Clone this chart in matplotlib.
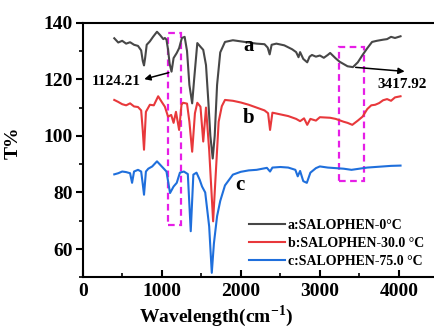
import matplotlib
matplotlib.use('Agg')
import matplotlib.pyplot as plt
from matplotlib.patches import Rectangle
from matplotlib.ticker import MultipleLocator

plt.rcParams['font.family'] = ['Liberation Serif', 'DejaVu Serif']
plt.rcParams['font.weight'] = 'bold'
plt.rcParams['mathtext.fontset'] = 'custom'
plt.rcParams['mathtext.rm'] = 'Liberation Serif:bold'

# curve a: SALOPHEN-0 °C
wn_a = [400, 450, 500, 550, 600, 650, 700, 740, 760, 776, 790, 810, 850, 890, 940, 980,
        1020, 1040, 1060, 1080, 1100, 1124, 1150, 1190, 1220, 1255, 1290, 1320, 1350, 1385,
        1410, 1450, 1490, 1525, 1560, 1590, 1615, 1645, 1670, 1700, 1740, 1800, 1900, 2000,
        2100, 2200, 2300, 2340, 2365, 2390, 2450, 2550, 2650, 2700, 2730, 2750, 2790, 2840,
        2870, 2900, 2950, 3000, 3050, 3100, 3130, 3200, 3250, 3300, 3350, 3418, 3480, 3540,
        3600, 3660, 3720, 3800, 3850, 3900, 3950, 4020]
t_a = [134.5, 133.0, 133.6, 132.6, 133.1, 132.2, 131.8, 130.2, 126.5, 124.9, 127.5, 132.2,
       133.4, 135.0, 136.8, 135.6, 134.2, 134.6, 134.0, 130.5, 125.5, 122.7, 127.5, 129.3,
       131.0, 134.6, 135.0, 130.0, 118.0, 111.5, 120.0, 132.8, 131.5, 130.4, 125.0, 112.0,
       100.0, 92.0, 100.0, 118.0, 129.5, 133.2, 133.8, 133.4, 133.0, 132.6, 132.4, 131.2,
       128.8, 132.2, 132.6, 132.0, 130.6, 129.6, 127.8, 129.6, 127.2, 126.0, 128.0, 128.6,
       128.0, 128.4, 127.6, 128.6, 129.3, 127.4, 126.2, 125.4, 124.6, 124.3, 126.0, 128.6,
       131.0, 133.2, 133.6, 134.0, 134.2, 135.0, 134.6, 135.2]

# curve b: SALOPHEN-30.0 °C
wn_b = [400, 450, 500, 550, 600, 650, 700, 740, 760, 776, 800, 850, 900, 955, 1000, 1040,
        1080, 1120, 1150, 1180, 1220, 1250, 1270, 1320, 1350, 1385, 1420, 1450, 1490, 1525,
        1560, 1600, 1650, 1680, 1720, 1760, 1800, 1900, 2000, 2100, 2200, 2300, 2345, 2370,
        2400, 2500, 2600, 2700, 2750, 2800, 2840, 2880, 2950, 3000, 3130, 3200, 3300, 3350,
        3410, 3480, 3540, 3600, 3650, 3700, 3750, 3800, 3850, 3900, 3950, 4020]
t_b = [112.7, 112.0, 111.2, 110.8, 111.5, 110.4, 110.2, 109.0, 102.0, 95.1, 108.5, 111.0,
       110.8, 114.0, 112.0, 110.3, 106.8, 107.4, 104.6, 108.5, 102.1, 111.0, 111.7, 111.4,
       105.0, 94.4, 108.0, 111.7, 110.3, 98.0, 110.0, 95.0, 69.8, 85.0, 105.0, 110.5, 112.7,
       112.4, 111.8, 111.0, 110.0, 109.0, 108.0, 102.1, 108.2, 107.6, 107.0, 106.0, 105.2,
       106.2, 103.9, 106.0, 105.4, 106.6, 106.4, 106.0, 105.0, 104.6, 103.9, 105.4, 106.8,
       109.5, 110.8, 111.0, 111.6, 112.6, 113.0, 112.4, 113.6, 114.0]

# curve c: SALOPHEN-75.0 °C
wn_c = [400, 450, 500, 550, 600, 625, 650, 700, 740, 760, 776, 800, 830, 880, 940, 980,
        1020, 1060, 1105, 1150, 1190, 1230, 1280, 1330, 1367, 1400, 1440, 1480, 1510, 1550,
        1600, 1633, 1660, 1700, 1740, 1800, 1900, 2000, 2100, 2200, 2330, 2370, 2400, 2500,
        2600, 2690, 2720, 2750, 2790, 2835, 2880, 2950, 3000, 3100, 3200, 3300, 3400, 3500,
        3600, 3700, 3800, 3900, 4020]
t_c = [86.4, 86.8, 87.4, 87.2, 86.8, 83.4, 87.4, 88.0, 87.4, 83.0, 79.2, 87.4, 88.4, 89.2,
       91.0, 89.8, 88.6, 87.4, 79.8, 82.1, 83.4, 87.0, 87.4, 86.5, 66.3, 86.3, 87.0, 84.5,
       82.1, 80.0, 68.0, 51.6, 62.0, 71.6, 77.0, 82.5, 86.3, 87.3, 87.8, 88.0, 88.7, 87.4,
       88.8, 89.0, 88.8, 88.0, 85.7, 87.6, 84.0, 83.4, 87.0, 88.6, 89.2, 88.8, 88.6, 88.4,
       88.0, 88.4, 88.8, 89.0, 89.2, 89.4, 89.5]

labels = ['a:SALOPHEN-0\u00b0C', 'b:SALOPHEN-30.0 \u00b0C', 'c:SALOPHEN-75.0 \u00b0C']
colors = ['#474747', '#e8383b', '#1f6fdc']

fig = plt.figure(figsize=(4.35, 3.29), dpi=100)
ax = fig.add_axes([0.19, 0.157, 0.818, 0.774])

for wn, t, lab, col in zip([wn_a, wn_b, wn_c], [t_a, t_b, t_c], labels, colors):
    ax.plot(wn, t, color=col, lw=1.5, label=lab)

# dashed highlight boxes
for x0, y0, w, h in [(1080, 68.6, 170, 67.8), (3248, 84.0, 313, 47.5)]:
    ax.add_patch(Rectangle((x0, y0), w, h, fill=False, edgecolor='#e61ee6',
                           lw=1.6, linestyle=(0, (3, 2))))

# peak labels
ax.annotate('', xy=(745, 119.8), xytext=(1124, 122.6),
            arrowprops=dict(arrowstyle='-|>', color='black', lw=1.1, mutation_scale=9))
ax.text(740, 119.3, '1124.21', ha='right', va='center', fontsize=11, fontweight='bold')
ax.annotate('', xy=(4107, 122.7), xytext=(3418, 124.3),
            arrowprops=dict(arrowstyle='-|>', color='black', lw=1.1, mutation_scale=9))
ax.text(3727, 118.3, '3417.92', ha='left', va='center', fontsize=11, fontweight='bold')

ax.text(2092, 131.8, 'a', ha='center', va='center', fontsize=15, fontweight='bold')
ax.text(2092, 106.4, 'b', ha='center', va='center', fontsize=15, fontweight='bold')
ax.text(1990, 82.7, 'c', ha='center', va='center', fontsize=15, fontweight='bold')

ax.set_xlim(0, 4500)
ax.set_ylim(50, 140)
ax.xaxis.set_major_locator(MultipleLocator(1000))
ax.xaxis.set_minor_locator(MultipleLocator(500))
ax.yaxis.set_major_locator(MultipleLocator(20))
ax.yaxis.set_minor_locator(MultipleLocator(10))
ax.set_xticks([0, 1000, 2000, 3000, 4000])
ax.set_yticks([60, 80, 100, 120, 140])
ax.tick_params(axis='x', which='both', direction='in', labelsize=14, pad=4)
ax.tick_params(axis='y', which='both', direction='out', labelsize=14, pad=2)
ax.tick_params(which='major', length=5, width=1.5)
ax.tick_params(which='minor', length=3, width=1.2)
for lab in ax.get_xticklabels() + ax.get_yticklabels():
    lab.set_fontweight('bold')
for sp in ax.spines.values():
    sp.set_linewidth(1.5)

ax.set_xlabel('Wavelength(cm$^{-1}$)', fontsize=14, fontweight='bold')
ax.set_ylabel('T%', fontsize=14, fontweight='bold')
ax.xaxis.set_label_coords(0.374, -0.1)
ax.yaxis.set_label_coords(-0.17, 0.527)

ax.legend(loc='lower left', bbox_to_anchor=(0.44, 0.0), frameon=False,
          prop={'size': 10, 'weight': 'bold'}, handlelength=2.6, handletextpad=0.2,
          labelspacing=0.35, borderaxespad=0.3)

fig.savefig('out.png', dpi=100)
